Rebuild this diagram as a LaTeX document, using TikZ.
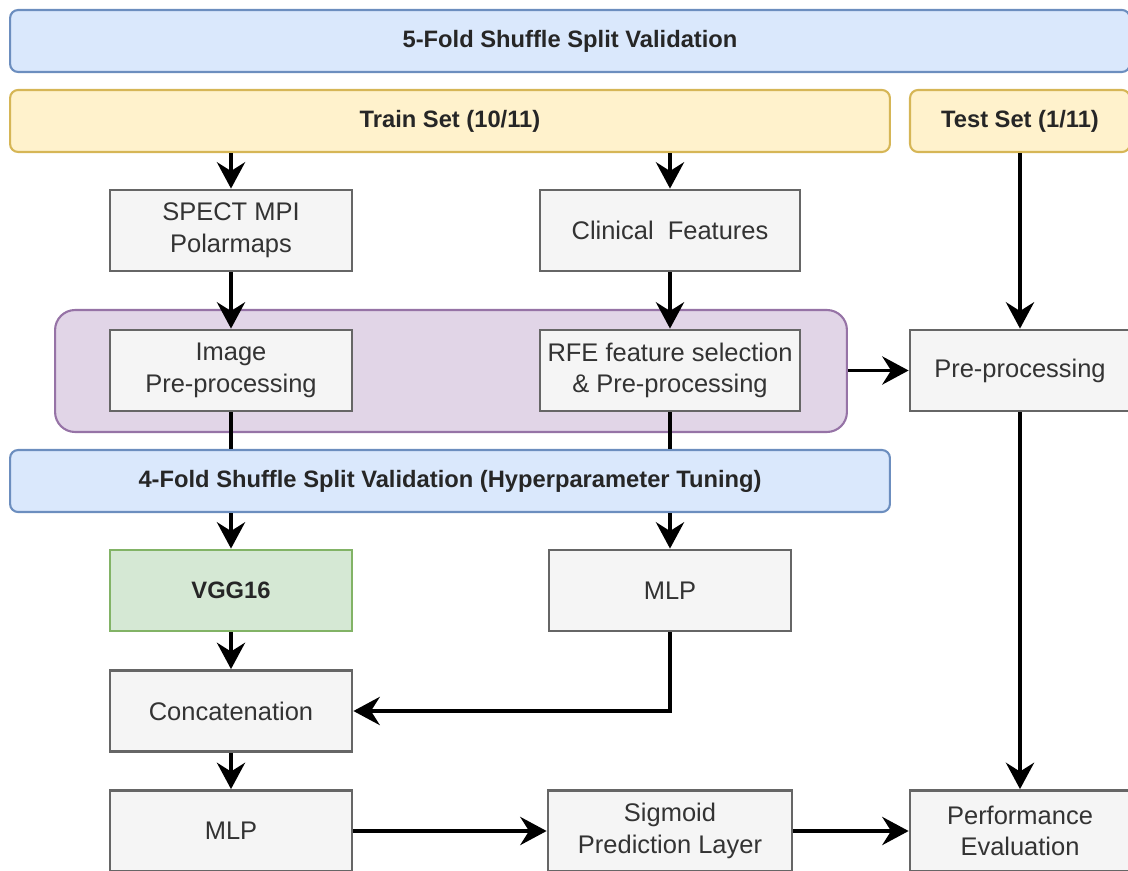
\documentclass[tikz,border=0pt]{standalone}
\usepackage{fontspec}
\setmainfont{Liberation Sans}
\usetikzlibrary{arrows.meta,positioning}

\definecolor{bandBlue}{HTML}{DAE8FC}
\definecolor{bandBlueLine}{HTML}{6C8EBF}
\definecolor{bandYellow}{HTML}{FFF2CC}
\definecolor{bandYellowLine}{HTML}{D6B656}
\definecolor{groupFill}{HTML}{E1D5E7}
\definecolor{groupLine}{HTML}{9673A6}
\definecolor{boxFill}{HTML}{F5F5F5}
\definecolor{boxLine}{HTML}{666666}
\definecolor{boxText}{HTML}{333333}
\definecolor{netFill}{HTML}{D5E8D4}
\definecolor{netLine}{HTML}{82B366}

\tikzset{
	box/.style={font=\fontsize{14.5}{18}\selectfont, draw=boxLine, fill=boxFill, text=boxText, line width=1.6pt,
		align=center, minimum width=4.84cm, minimum height=1.62cm, inner sep=0pt},
	band/.style={font=\fontsize{13.5}{18}\selectfont\bfseries, draw=bandBlueLine, fill=bandBlue,
		text=black!85, line width=1.2pt, rounded corners=0.16cm, minimum height=1.24cm, inner sep=0pt},
	setband/.style={band, draw=bandYellowLine, fill=bandYellow},
	group/.style={draw=groupLine, fill=groupFill, line width=1.2pt, rounded corners=0.4cm,
		minimum width=15.84cm, minimum height=2.44cm},
	net/.style={box, draw=netLine, fill=netFill, text=black!85, font=\fontsize{13.5}{18}\selectfont\bfseries},
	flow/.style={line width=2.2pt, -{Stealth[length=15pt,width=16pt,inset=5pt]}}
}

\begin{document}
\begin{tikzpicture}[x=0.02cm,y=-0.02cm]
		\useasboundingbox (0,0) rectangle (1128,871);

		\draw (570,41) node [band, minimum width=22.4cm] (fold5) {5-Fold Shuffle Split Validation};
		\draw (450,121) node [setband, minimum width=17.6cm] (train) {Train Set (10/11)};
		\draw (1020,121) node [setband, minimum width=4.4cm] (test) {Test Set (1/11)};

		\draw (451,371) node [group] (prep) {};

		\draw (231,230.5) node [box] (spect) {SPECT MPI\\Polarmaps};
		\draw (670,230.5) node [box, minimum width=5.2cm] (clin) {Clinical\ \ Features};
		\draw (231,370.5) node [box] (imgpre) {Image\\Pre-processing};
		\draw (670,370.5) node [box, minimum width=5.2cm] (rfe) {RFE feature selection\\\& Pre-processing};
		\draw (1020,370.5) node [box, minimum width=4.4cm] (testpre) {Pre-processing};

		\draw (450,481) node [band, minimum width=17.6cm] (fold4) {4-Fold Shuffle Split Validation (Hyperparameter Tuning)};

		\draw (231,590.5) node [net] (vgg) {VGG16};
		\draw (670,590.5) node [box] (mlpclin) {MLP};
		\draw (231,711) node [box] (concat) {Concatenation};
		\draw (231,831) node [box] (mlpfuse) {MLP};
		\draw (670,831) node [box, minimum width=4.88cm] (sigm) {Sigmoid\\Prediction Layer};
		\draw (1020,831) node [box, minimum width=4.4cm] (perf) {Performance\\Evaluation};

		\path [flow]
			(train.south -| spect) edge (spect.north)
			(train.south -| clin) edge (clin.north)
			(test.south) edge (testpre.north)
			(spect.south) edge (imgpre.north)
			(clin.south) edge (rfe.north)
			(prep.east |- testpre) edge (testpre.west)
			(imgpre.south) edge [-] (imgpre |- fold4.north)
			(rfe.south) edge [-] (rfe |- fold4.north)
			(fold4.south -| vgg) edge (vgg.north)
			(fold4.south -| mlpclin) edge (mlpclin.north)
			(vgg.south) edge (concat.north)
			(mlpclin.south) edge [to path={|- (\tikztotarget)}] (concat.east)
			(concat.south) edge (mlpfuse.north)
			(mlpfuse.east) edge (sigm.west)
			(sigm.east) edge (perf.west)
			(testpre.south) edge (perf.north)
		;
	\end{tikzpicture}
\end{document}
